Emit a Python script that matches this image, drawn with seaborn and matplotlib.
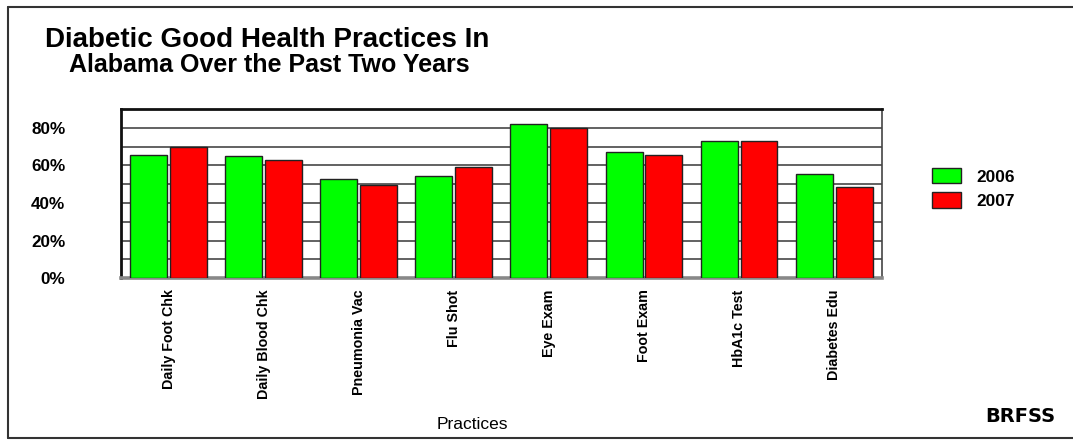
import matplotlib
matplotlib.use("Agg")
import matplotlib.pyplot as plt
from matplotlib.lines import Line2D
import seaborn as sns
import pandas as pd

practices = ["Daily Foot Chk", "Daily Blood Chk", "Pneumonia Vac", "Flu Shot",
             "Eye Exam", "Foot Exam", "HbA1c Test", "Diabetes Edu"]
years = ["2006", "2007"]
values_2006 = [65.6, 65.1, 52.7, 54.3, 81.8, 67.0, 72.8, 55.6]
values_2007 = [69.8, 62.8, 49.7, 59.3, 79.9, 65.6, 72.8, 48.5]
y_ticks = [0, 20, 40, 60, 80]
y_tick_labels = ["0%", "20%", "40%", "60%", "80%"]

df = pd.DataFrame({
    "Practice": practices * 2,
    "Year": [years[0]] * len(practices) + [years[1]] * len(practices),
    "Value": values_2006 + values_2007,
})

sns.set_theme(style="white")
plt.rcParams["font.family"] = ["Liberation Sans", "DejaVu Sans"]
plt.rcParams["text.color"] = "black"
plt.rcParams["xtick.color"] = "black"
plt.rcParams["ytick.color"] = "black"
plt.rcParams["axes.labelcolor"] = "black"

W, H = 1073, 443
fig = plt.figure(figsize=(W / 100, H / 100), dpi=100)
ax = fig.add_axes([121 / W, 1 - 278.3 / H, (881.7 - 121) / W, (278.3 - 109) / H])

palette = {"2006": "#00ff00", "2007": "#ff0000"}
sns.barplot(data=df, x="Practice", y="Value", hue="Year", order=practices,
            hue_order=years, palette=palette, width=0.838, gap=0.072,
            edgecolor="#222222", linewidth=1.0, saturation=1, errorbar=None,
            ax=ax, zorder=3)

ax.set_ylim(0, 90)
ax.set_xlim(-0.5, len(practices) - 0.5)
ax.set_axisbelow(True)
ax.set_yticks(y_ticks)
ax.set_yticks(range(10, 91, 20), minor=True)
ax.yaxis.grid(True, which="both", color="#555555", linewidth=1.3)
ax.set_yticklabels(y_tick_labels, fontsize=12.3, fontweight="bold")
ax.tick_params(axis="y", which="both", length=0, pad=40)
ax.tick_params(axis="x", length=0, pad=8)
ax.set_xticks(range(len(practices)))
ax.set_xticklabels(practices, rotation=90, fontsize=10.3, fontweight="bold")
ax.set_xlabel("")
ax.set_ylabel("")

for s in ["left", "top"]:
    ax.spines[s].set_color("#111111")
    ax.spines[s].set_linewidth(2.0)
ax.spines["right"].set_color("#444444")
ax.spines["right"].set_linewidth(1.2)
ax.spines["bottom"].set_color("#888888")
ax.spines["bottom"].set_linewidth(2.6)

handles, labels = ax.get_legend_handles_labels()
ax.legend(handles, labels, loc="upper left",
          bbox_to_anchor=(931.7 / W, 1 - 168 / H), bbox_transform=fig.transFigure,
          frameon=False, prop={"size": 12.4, "weight": "bold"},
          handlelength=1.7, handleheight=1.0, handletextpad=0.9,
          labelspacing=0.45, borderpad=0, borderaxespad=0)

fig.text(45 / W, 1 - 46.7 / H, "Diabetic Good Health Practices In",
         fontsize=20, fontweight="bold", ha="left", va="baseline")
fig.text(69 / W, 1 - 71.7 / H, "Alabama Over the Past Two Years",
         fontsize=18, fontweight="bold", ha="left", va="baseline")
fig.text(472 / W, 1 - 429 / H, "Practices", fontsize=12.5,
         ha="center", va="baseline")
fig.text(1055 / W, 1 - 421.5 / H, "BRFSS", fontsize=14,
         fontweight="bold", family=["DejaVu Sans"], ha="right", va="baseline")

# outer frame
fig.add_artist(Line2D([8 / W, 8 / W], [1 - 7 / H, 1 - 438 / H],
                      transform=fig.transFigure, color="#333333", linewidth=1.5))
fig.add_artist(Line2D([8 / W, 1.0], [1 - 7 / H, 1 - 7 / H],
                      transform=fig.transFigure, color="#333333", linewidth=1.5))
fig.add_artist(Line2D([8 / W, 1.0], [1 - 438 / H, 1 - 438 / H],
                      transform=fig.transFigure, color="#333333", linewidth=1.5))

fig.savefig("out.png", dpi=100)
